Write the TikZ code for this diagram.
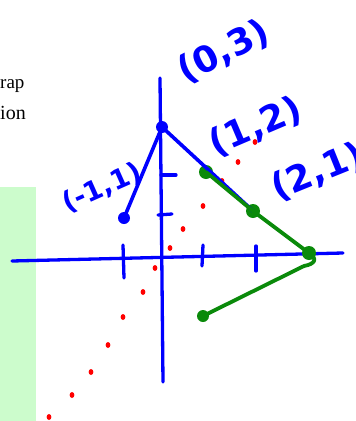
\documentclass[tikz,border=0pt]{standalone}
\usepackage{fontspec}
\setmainfont{Liberation Serif}
\newfontfamily\handfont{DejaVu Sans}
\usetikzlibrary{positioning}
\definecolor{penBlue}{HTML}{0000FF}
\definecolor{penGreen}{HTML}{0A8A0A}
\definecolor{penRed}{HTML}{FF0000}
\definecolor{paneGreen}{HTML}{CCFCCC}

\begin{document}
\begin{tikzpicture}[x=1pt,y=-1pt,line cap=round,line join=round]
\useasboundingbox[fill=white] (0,0) rectangle (356,421);
\clip (0,0) rectangle (356,421);
\tikzset{axis/.style={draw=penBlue,line width=3.3pt},blueline/.style={draw=penBlue,line width=3.6pt},greenline/.style={draw=penGreen,line width=3.8pt},bluedot/.style={circle,fill=penBlue,inner sep=0pt,minimum size=12pt},greendot/.style={circle,fill=penGreen,inner sep=0pt,minimum size=14pt},hand/.style={text=penBlue,inner sep=0pt,font=\handfont\bfseries\fontsize{36}{36}\selectfont}}
\path[fill=paneGreen] (0,187) rectangle (36,421);
\node[anchor=base west,inner sep=0pt,font=\fontsize{19}{19}\selectfont] (wrap) at (0,88) {rap};
\node[anchor=base west,inner sep=0pt,font=\fontsize{20}{20}\selectfont] (func) at (0,119) {ion};
\coordinate (xl) at (12,261);
\coordinate (xr) at (343,253);
\coordinate (yt) at (160,78);
\coordinate (yb) at (163,382);
\draw[axis] (xl) -- (xr);
\draw[axis] (yt) -- (yb);
\draw[axis] (123,245) -- (124,278);
\draw[axis] (203,245) -- (202,266);
\draw[axis] (256,246) -- (256,271);
\draw[axis] (158,215) -- (172,214);
\draw[axis] (161,175) -- (176,175);
\foreach \x/\y in {49/417,72/395,91/372,108/345,123/317,143/292,155/268,170/248,183/229,203/206,222/181,238/162,255/142}
  \fill[penRed] (\x,\y) ellipse (2.4pt and 3pt);
\node[bluedot] (p03) at (162,127) {};
\node[bluedot] (pm11) at (124,218) {};
\node[greendot] (p12) at (206,172) {};
\node[greendot] (p21) at (253,211) {};
\node[greendot] (p30) at (309,253) {};
\node[greendot,minimum size=12pt] (pend) at (203,316) {};
\draw[blueline] (pm11.center) -- (p03.center) -- (p21.center);
\draw[greenline] (p12.center) -- (p21.center) -- (p30.center) .. controls (318,259) and (315,264) .. (304,266) -- (pend.center);
\node[hand,rotate=27] (l03) at (224,52) {(0,3)};
\node[hand,rotate=23] (l12) at (256,127) {(1,2)};
\node[hand,rotate=22] (l21) at (318,172) {(2,1)};
\node[hand,rotate=24,font=\handfont\bfseries\fontsize{27}{27}\selectfont] (lm11) at (102,188) {(-1,1)};
\end{tikzpicture}
\end{document}
